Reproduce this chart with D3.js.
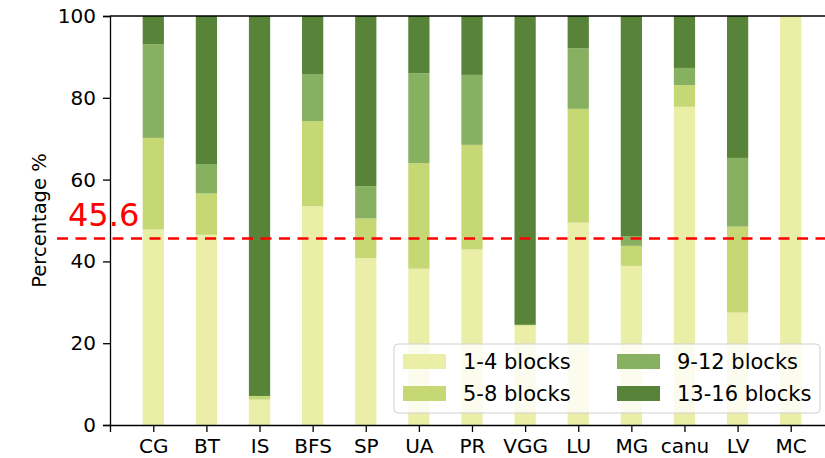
<!DOCTYPE html>
<html>
<head>
<meta charset="utf-8">
<script src="https://cdn.jsdelivr.net/npm/d3@7"></script>
<style>
  body { margin: 0; background: #fff; }
  svg, svg text { font-family: "DejaVu Sans", sans-serif; }
  .tick text { fill: #000; }
</style>
</head>
<body>
<div id="chart"></div>
<script>
var categories = ["CG", "BT", "IS", "BFS", "SP", "UA", "PR", "VGG", "LU", "MG", "canu", "LV", "MC"];
var seriesNames = ["1-4 blocks", "5-8 blocks", "9-12 blocks", "13-16 blocks"];
var blocks1to4 = [47.8, 46.5, 6.2, 53.5, 40.8, 38.2, 42.9, 24.3, 49.5, 38.9, 77.8, 27.5, 100];
var blocks5to8 = [22.4, 10.1, 0.9, 20.8, 9.7, 25.8, 25.6, 0.2, 27.8, 4.9, 5.3, 21.0, 0];
var blocks9to12 = [22.9, 7.2, 0, 11.4, 7.9, 22.0, 17.1, 0, 14.8, 2.4, 4.2, 16.8, 0];
var blocks13to16 = [6.9, 36.2, 92.9, 14.3, 41.6, 14.0, 14.4, 75.5, 7.9, 53.8, 12.7, 34.7, 0];
var yTicks = [0, 20, 40, 60, 80, 100];
var meanLine = 45.6;

var colors = ["#ebeea7", "#c6d873", "#88b061", "#578438"];

var margin = { top: 16, left: 110 };
var width = 724, height = 409;

var svg = d3.select("#chart").append("svg")
  .attr("width", 825)
  .attr("height", 458);

var g = svg.append("g")
  .attr("transform", "translate(" + margin.left + "," + margin.top + ")");

var x = d3.scalePoint()
  .domain(categories)
  .range([0, width])
  .padding(0.815);

var y = d3.scaleLinear()
  .domain([0, 100])
  .range([height, 0]);

var barW = x.step() * 0.4;

// stack data
var table = categories.map(function(c, i){
  return { cat: c, s0: blocks1to4[i], s1: blocks5to8[i], s2: blocks9to12[i], s3: blocks13to16[i] };
});
var stack = d3.stack().keys(["s0", "s1", "s2", "s3"])(table);

g.selectAll(".layer")
  .data(stack)
  .enter().append("g")
  .attr("class", "layer")
  .attr("fill", function(d, i){ return colors[i]; })
  .selectAll("rect")
  .data(function(d){ return d; })
  .enter().append("rect")
  .attr("x", function(d){ return x(d.data.cat) - barW / 2; })
  .attr("y", function(d){ return y(d[1]); })
  .attr("width", barW)
  .attr("height", function(d){ return y(d[0]) - y(d[1]); });

// mean line
g.append("line")
  .attr("x1", 57 - margin.left)
  .attr("x2", 825 - margin.left)
  .attr("y1", y(meanLine))
  .attr("y2", y(meanLine))
  .attr("stroke", "#ff0000")
  .attr("stroke-width", 2.7)
  .attr("stroke-dasharray", "11,7.5");

g.append("text")
  .attr("x", 68 - margin.left)
  .attr("y", y(meanLine) - 12)
  .attr("fill", "#ff0000")
  .style("font-size", "32px")
  .text(meanLine);

// legend
var legend = g.append("g")
  .attr("transform", "translate(" + (394 - margin.left) + "," + (344 - margin.top) + ")");

legend.append("rect")
  .attr("width", 426)
  .attr("height", 69)
  .attr("rx", 4)
  .attr("fill", "#fff")
  .attr("fill-opacity", 0.8)
  .attr("stroke", "#d0d0d0")
  .attr("stroke-width", 1);

seriesNames.forEach(function(name, i){
  var col = Math.floor(i / 2), row = i % 2;
  var lx = 9 + col * 214, ly = 10 + row * 32;
  legend.append("rect")
    .attr("x", lx)
    .attr("y", ly)
    .attr("width", 43)
    .attr("height", 15)
    .attr("fill", colors[i]);
  legend.append("text")
    .attr("x", lx + 60)
    .attr("y", ly + 15)
    .style("font-size", "21px")
    .text(name);
});

// axes
var xAxis = g.append("g")
  .attr("transform", "translate(0," + height + ")")
  .attr("font-family", "DejaVu Sans")
  .call(d3.axisBottom(x).tickSize(7).tickPadding(7));
xAxis.attr("font-family", "DejaVu Sans");
xAxis.select(".domain").attr("stroke-width", 1.3);
xAxis.selectAll(".tick line").attr("stroke-width", 1.3);
xAxis.selectAll("text").style("font-size", "20px");

var yAxis = g.append("g")
  .call(d3.axisLeft(y).tickValues(yTicks).tickSize(7).tickPadding(7));
yAxis.attr("font-family", "DejaVu Sans");
yAxis.select(".domain").attr("stroke-width", 1.3);
yAxis.selectAll(".tick line").attr("stroke-width", 1.3);
yAxis.selectAll("text").style("font-size", "20px");

// top spine
g.append("line")
  .attr("x1", 0).attr("x2", width)
  .attr("y1", 0).attr("y2", 0)
  .attr("stroke", "#000")
  .attr("stroke-width", 1.3);

g.append("text")
  .attr("text-anchor", "middle")
  .attr("transform", "translate(" + (-64) + "," + (height / 2) + ")rotate(-90)")
  .style("font-size", "19.5px")
  .text("Percentage %");
</script>
</body>
</html>
